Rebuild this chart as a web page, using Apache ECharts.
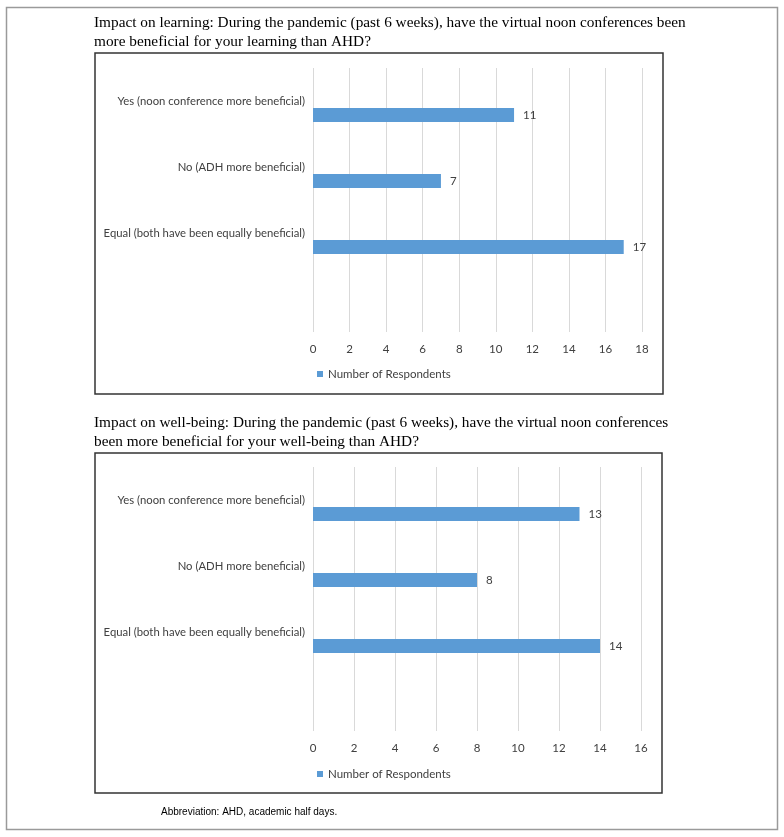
<!DOCTYPE html>
<html>
<head>
<meta charset="utf-8">
<script src="https://cdn.jsdelivr.net/npm/echarts@6/dist/echarts.min.js"></script>
<style>
  html, body { margin: 0; padding: 0; background: #fff; }
  #chart { width: 784px; height: 837px; }
</style>
</head>
<body>
<div id="chart"></div>
<script>
// categories (last one empty, Excel leaves a blank band at the bottom)
var categories = ['Yes (noon conference more beneficial)', 'No (ADH more beneficial)', 'Equal (both have been equally beneficial)', ''];
var learningValues = [11, 7, 17, null];
var wellbeingValues = [13, 8, 14, null];
var learningMax = 18;
var wellbeingMax = 16;
var tickStep = 2;
var seriesName = 'Number of Respondents';
var title1 = 'Impact on learning: During the pandemic (past 6 weeks), have the virtual noon conferences been\nmore beneficial for your learning than AHD?';
var title2 = 'Impact on well-being: During the pandemic (past 6 weeks), have the virtual noon conferences\nbeen more beneficial for your well-being than AHD?';
var footnote = 'Abbreviation: AHD, academic half days.';

var sansFont = 'Lato';
var barColor = '#5b9bd5';

function yAxisFor(idx) {
  return {
    type: 'category',
    gridIndex: idx,
    data: categories,
    inverse: true,
    axisLine: { show: false },
    axisTick: { show: false },
    splitLine: { show: false },
    axisLabel: { color: '#404040', fontSize: 11.3, fontFamily: sansFont, margin: 8 }
  };
}
function xAxisFor(idx, max) {
  return {
    type: 'value',
    gridIndex: idx,
    min: 0,
    max: max,
    interval: tickStep,
    axisLine: { show: false },
    axisTick: { show: false },
    splitLine: { lineStyle: { color: '#d9d9d9', width: 1 } },
    axisLabel: { color: '#404040', fontSize: 11.5, fontFamily: sansFont, margin: 11 }
  };
}
function seriesFor(idx, values) {
  return [
    { // empty placeholder so the bar sits below the label, as in the source
      type: 'bar', name: 'blank', xAxisIndex: idx, yAxisIndex: idx,
      data: [], barWidth: 14, barGap: '100%'
    },
    {
      type: 'bar', name: seriesName, xAxisIndex: idx, yAxisIndex: idx,
      data: values, barWidth: 14, barGap: '100%',
      itemStyle: { color: barColor },
      label: { show: true, position: 'right', distance: 9, color: '#404040', fontSize: 11.5, fontFamily: sansFont },
      silent: true
    }
  ];
}
function legendFor(top) {
  return {
    data: [seriesName], left: 317, top: top, padding: 0,
    icon: 'rect', itemWidth: 6, itemHeight: 6,
    textStyle: { color: '#404040', fontSize: 11.5, fontFamily: sansFont },
    selectedMode: false
  };
}

var myChart = echarts.init(document.getElementById('chart'));
var option = {
  animation: false,
  title: [
    { text: title1, left: 94, top: 13, padding: 0,
      textStyle: { fontFamily: 'Liberation Serif', fontSize: 15.3, fontWeight: 'normal', color: '#000', lineHeight: 19 } },
    { text: title2, left: 94, top: 413, padding: 0,
      textStyle: { fontFamily: 'Liberation Serif', fontSize: 15.3, fontWeight: 'normal', color: '#000', lineHeight: 19 } },
    { text: footnote, left: 161, top: 807, padding: 0,
      textStyle: { fontFamily: 'Liberation Sans', fontSize: 10, fontWeight: 'normal', color: '#000' } }
  ],
  legend: [legendFor(368), legendFor(768)],
  grid: [
    { left: 313, top: 68, width: 329, height: 264 },
    { left: 313, top: 467, width: 328, height: 264 }
  ],
  xAxis: [xAxisFor(0, learningMax), xAxisFor(1, wellbeingMax)],
  yAxis: [yAxisFor(0), yAxisFor(1)],
  series: seriesFor(0, learningValues).concat(seriesFor(1, wellbeingValues)),
  graphic: [
    { type: 'rect', shape: { x: 6.5, y: 7.5, width: 771, height: 822 }, style: { fill: 'none', stroke: '#9a9a9a', lineWidth: 1.5 }, silent: true },
    { type: 'rect', shape: { x: 95, y: 53, width: 568, height: 341 }, style: { fill: 'none', stroke: '#333', lineWidth: 1.5 }, silent: true },
    { type: 'rect', shape: { x: 95, y: 453, width: 567, height: 340 }, style: { fill: 'none', stroke: '#333', lineWidth: 1.5 }, silent: true }
  ]
};
myChart.setOption(option);
</script>
</body>
</html>
